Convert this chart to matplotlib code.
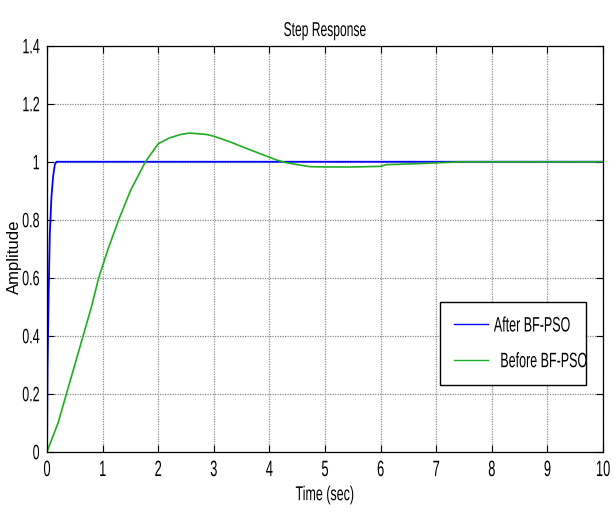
import matplotlib
matplotlib.use("Agg")
from matplotlib import pyplot as plt
from matplotlib.patheffects import AbstractPathEffect
from matplotlib.transforms import Affine2D

# %%
# Step response data

t_after = [0, 0.01, 0.03, 0.05, 0.08, 0.11, 0.14, 0.17, 10]
y_after = [0, 0.30, 0.55, 0.75, 0.88, 0.95, 0.99, 1.0, 1.0]

t_before = [0, 0.2, 0.35, 0.5, 0.65, 0.8, 0.93, 1.1, 1.29, 1.5, 1.77,
            2.0, 2.2, 2.4, 2.57, 2.87, 3.0, 3.3, 3.6, 3.9, 4.13, 4.3,
            4.5, 4.73, 5.0, 5.5, 6.0, 6.1, 6.6, 7.0, 7.45, 10]
y_before = [0, 0.10, 0.20, 0.30, 0.40, 0.50, 0.60, 0.70, 0.80, 0.90, 1.0,
            1.062, 1.082, 1.094, 1.099, 1.094, 1.088, 1.068, 1.045, 1.023,
            1.006, 0.997, 0.990, 0.983, 0.982, 0.982, 0.984, 0.990, 0.993,
            0.996, 1.0, 1.0]

x_ticks = list(range(0, 11))
y_ticks = [0, 0.2, 0.4, 0.6, 0.8, 1, 1.2, 1.4]
y_tick_labels = ["0", "0.2", "0.4", "0.6", "0.8", "1", "1.2", "1.4"]

sans = ["Liberation Sans", "DejaVu Sans"]


class Squeeze(AbstractPathEffect):
    """Narrow the glyphs horizontally, keeping one edge (or the centre) fixed."""

    def __init__(self, sx=0.6, anchor="center"):
        super().__init__()
        self.sx = sx
        self.anchor = anchor

    def draw_path(self, renderer, gc, tpath, affine, rgbFace=None):
        ext = tpath.get_extents(affine)
        if self.anchor == "left":
            x0 = ext.x0
        elif self.anchor == "right":
            x0 = ext.x1
        else:
            x0 = 0.5 * (ext.x0 + ext.x1)
        sq = Affine2D().translate(-x0, 0).scale(self.sx, 1).translate(x0, 0)
        renderer.draw_path(gc, tpath, affine + sq, rgbFace)


# %%
# Figure

fig = plt.figure(figsize=(6.13, 5.2), dpi=100)
ax = fig.add_axes([0.0767, 0.1313, 0.907, 0.7807])

ax.plot(t_after, y_after, color="#0000ff", lw=1.3, label="After BF-PSO")
ax.plot(t_before, y_before, color="#1fae1f", lw=1.2, label=" Before BF-PSO")

ax.set_xlim(0, 10)
ax.set_ylim(0, 1.4)
ax.set_xticks(x_ticks)
ax.set_xticklabels([str(v) for v in x_ticks], family=sans, fontsize=16)
ax.set_yticks(y_ticks)
ax.set_yticklabels(y_tick_labels, family=sans, fontsize=15)
ax.tick_params(direction="in", length=5, top=True, right=True, width=0.8)
ax.tick_params(axis="y", pad=5)
ax.tick_params(axis="x", pad=6)
for lab in ax.get_xticklabels():
    lab.set_path_effects([Squeeze(0.58, "center")])
for lab in ax.get_yticklabels():
    lab.set_path_effects([Squeeze(0.6, "right")])

ax.grid(True, color="0.55", linestyle=(0, (1, 1)), linewidth=0.9)
for s in ax.spines.values():
    s.set_linewidth(0.9)

title = ax.set_title("Step Response", family=sans, fontsize=14.5, pad=7)
title.set_path_effects([Squeeze(0.6, "center")])
xl = ax.set_xlabel("Time (sec)", family=sans, fontsize=14.5, labelpad=3)
xl.set_path_effects([Squeeze(0.62, "center")])
ax.set_ylabel("Amplitude", family=sans, fontsize=12)
ax.yaxis.set_label_coords(-0.045, 0.48)

leg = ax.legend(loc="upper left", bbox_to_anchor=(0.707, 0.368, 0.262, 0.0),
                mode="expand", borderaxespad=0, fancybox=False, framealpha=1,
                edgecolor="black", handlelength=1.6, handletextpad=0.3,
                labelspacing=0.8, borderpad=0.68,
                prop={"family": sans, "size": 15})
leg.get_frame().set_linewidth(1.0)
for txt in leg.get_texts():
    txt.set_path_effects([Squeeze(0.6, "left")])
for ln in leg.get_lines():
    ln.set_linewidth(1.0)

fig.savefig("out.png", dpi=100)
